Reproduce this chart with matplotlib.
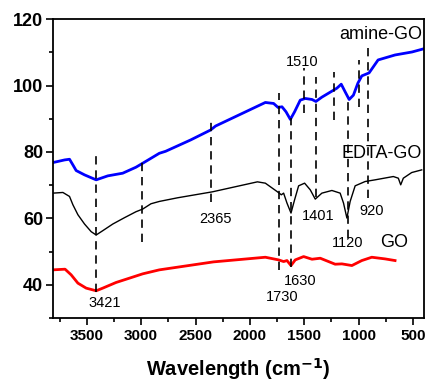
import matplotlib
matplotlib.use("Agg")
import matplotlib.pyplot as plt
from matplotlib.ticker import MultipleLocator

plt.rcParams['font.family'] = ['Liberation Sans', 'DejaVu Sans']

# amine-GO (blue)
amine_wn = [3812, 3704, 3659, 3628, 3598, 3521, 3414, 3307, 3170, 3048, 2986, 2833,
            2775, 2546, 2362, 2316, 1858, 1782, 1741, 1705, 1668, 1628, 1589, 1537,
            1491, 1429, 1393, 1338, 1246, 1200, 1160, 1124, 1087, 1048, 1007, 971,
            904, 821, 665, 509, 408]
amine_t = [76.8, 77.6, 77.8, 76.1, 74.4, 73.1, 71.6, 72.8, 73.6, 75.4, 76.6, 79.6,
           80.2, 83.6, 86.6, 87.8, 94.9, 94.6, 93.4, 93.6, 92.1, 89.8, 92.1, 95.6,
           96.1, 95.8, 95.2, 96.5, 98.3, 99.2, 100.4, 98.1, 95.8, 97.1, 100.7, 102.9,
           103.8, 107.7, 109.2, 110.1, 111.0]

# EDTA-GO (black)
edta_wn = [3812, 3720, 3659, 3628, 3582, 3521, 3460, 3414, 3353, 3261, 3154, 3048,
           2986, 2910, 2833, 2665, 2344, 1931, 1858, 1751, 1711, 1690, 1659, 1622,
           1589, 1552, 1497, 1445, 1399, 1338, 1246, 1170, 1139, 1108, 1078, 1032,
           940, 849, 681, 635, 613, 589, 512, 420]
edta_t = [67.6, 67.8, 66.6, 64.1, 61.1, 58.3, 56.0, 55.0, 56.3, 58.3, 60.2, 62.0,
          62.8, 64.4, 65.1, 66.2, 68.0, 71.0, 70.6, 68.1, 67.1, 67.6, 64.6, 61.6,
          65.6, 69.8, 70.6, 68.6, 65.8, 67.6, 68.4, 67.6, 64.6, 60.1, 65.1, 69.8,
          71.1, 71.6, 72.6, 72.1, 70.1, 72.1, 73.8, 74.6]

# GO (red)
go_wn = [3812, 3700, 3644, 3582, 3506, 3414, 3353, 3231, 3108, 2986, 2833, 2335,
         1858, 1736, 1690, 1659, 1622, 1583, 1506, 1429, 1353, 1216, 1154, 1062,
         971, 879, 757, 665]
go_t = [44.5, 44.7, 43.0, 40.5, 39.0, 38.2, 39.0, 40.7, 42.0, 43.3, 44.5, 46.9,
        48.3, 47.5, 47.0, 47.3, 45.8, 47.5, 48.5, 47.7, 48.0, 46.2, 46.3, 45.8,
        47.3, 48.3, 47.8, 47.3]

# dashed marker lines: position, bottom, top
mark_wn = [3415, 2990, 2355, 1736, 1625, 1500, 1396, 1231, 1095, 995, 910]
mark_lo = [37.9, 52.9, 65.0, 44.5, 45.4, 91.7, 66.5, 89.6, 54.1, 93.5, 66.2]
mark_hi = [78.8, 78.2, 90.5, 97.7, 90.2, 105.3, 102.6, 104.0, 96.0, 107.7, 112.2]

# peak labels: text, x, y
peak_txt = ['3421', '2365', '1730', '1630', '1510', '1401', '1120', '920']
peak_x = [3335, 2316, 1702, 1537, 1518, 1372, 1105, 876]
peak_y = [34.6, 59.8, 36.4, 41.2, 107.1, 60.8, 52.6, 62.3]

# sample labels
name_txt = ['amine-GO', 'EDTA-GO', 'GO']
name_x = [417, 417, 546]
name_y = [115.5, 79.5, 52.6]

fig = plt.figure(figsize=(4.3, 3.82), dpi=100)
ax = fig.add_axes([0.123, 0.1675, 0.863, 0.7825])

ax.plot(amine_wn, amine_t, color='#0000ff', lw=2.0)
ax.plot(edta_wn, edta_t, color='black', lw=1.0)
ax.plot(go_wn, go_t, color='#ff0000', lw=2.0)

for x, lo, hi in zip(mark_wn, mark_lo, mark_hi):
    ax.plot([x, x], [lo, hi], color='black', lw=1.2, dashes=(5, 3.5))

for t, x, y in zip(peak_txt, peak_x, peak_y):
    ax.text(x, y, t, fontsize=10.5, ha='center', va='center')
for t, x, y in zip(name_txt, name_x, name_y):
    ax.text(x, y, t, fontsize=13, ha='right', va='center')

ax.set_xlim(3812, 399)
ax.set_ylim(30, 120)
ax.xaxis.set_major_locator(MultipleLocator(500))
ax.xaxis.set_minor_locator(MultipleLocator(250))
ax.yaxis.set_major_locator(MultipleLocator(20))
ax.yaxis.set_minor_locator(MultipleLocator(10))
ax.tick_params(which='both', direction='out', width=1.2, top=False, right=False)
ax.tick_params(which='major', length=5)
ax.tick_params(which='minor', length=3)
ax.tick_params(axis='x', labelsize=11, pad=3)
ax.tick_params(axis='y', labelsize=13, pad=2)
for lab in ax.get_xticklabels() + ax.get_yticklabels():
    lab.set_fontweight('bold')
for s in ax.spines.values():
    s.set_linewidth(1.3)

ax.set_xlabel('Wavelength (cm$^{\\mathbf{-1}}$)', fontsize=14.5, fontweight='bold', labelpad=9)

fig.savefig('out.png', dpi=100)
